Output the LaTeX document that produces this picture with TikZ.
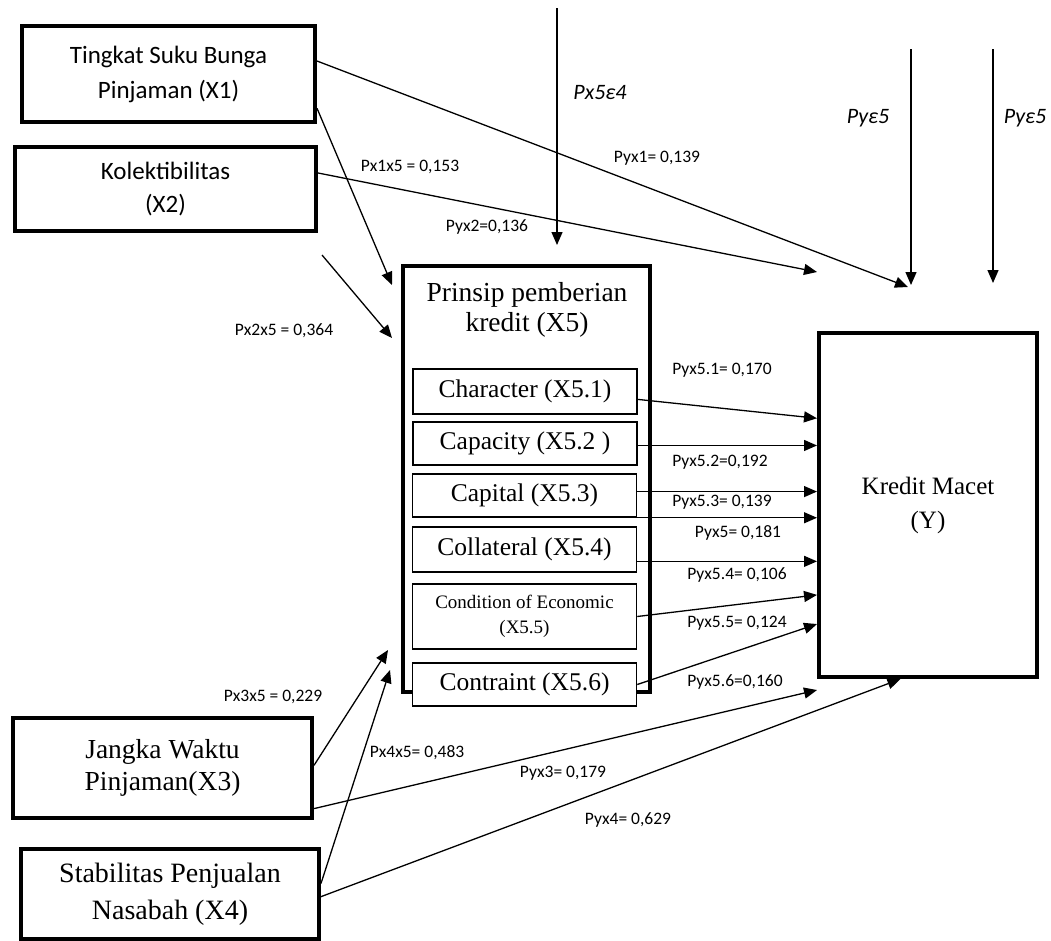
\documentclass[tikz,border=0pt]{standalone}
\usepackage{fontspec}
\setmainfont{Liberation Serif}
\newfontfamily\calib{Carlito}
\usetikzlibrary{arrows.meta}

\begin{document}
\begin{tikzpicture}[x=1pt,y=-1pt,
   varbox/.style={draw, line width=4pt, fill=white, align=center, inner sep=0pt},
   subbox/.style={draw, line width=1.5pt, fill=white, align=center, inner sep=0pt,
                  minimum width=224pt, font=\fontsize{25.5}{30}\selectfont},
   coef/.style={font=\calib\fontsize{17.5}{20}\selectfont, inner sep=1pt},
   err/.style={font=\calib\itshape\fontsize{22}{26}\selectfont, inner sep=1pt},
   link/.style={line width=1.3pt, -{Triangle[length=13pt,width=11pt]}}]

\useasboundingbox (0,0) rectangle (1051,940);

\node[varbox, minimum width=293pt, minimum height=96pt,
      font=\calib\fontsize{25}{35}\selectfont] (x1) at (168.5,74) {Tingkat Suku Bunga\\Pinjaman (X1)};
\node[varbox, minimum width=301pt, minimum height=84pt,
      font=\calib\fontsize{25}{33}\selectfont] (x2) at (165.5,189) {Kolektibilitas\\(X2)};
\node[varbox, minimum width=299pt, minimum height=100pt,
      font=\fontsize{27.5}{32}\selectfont] (x3) at (162.5,768) {Jangka Waktu\\Pinjaman(X3)};
\node[varbox, minimum width=298pt, minimum height=90pt,
      font=\fontsize{28}{37}\selectfont] (x4) at (170,894) {Stabilitas Penjualan\\Nasabah (X4)};
\node[varbox, minimum width=218pt, minimum height=344pt,
      font=\fontsize{25}{34}\selectfont] (ybox) at (928,505) {Kredit Macet\\(Y)};

\node[varbox, minimum width=247pt, minimum height=426pt] (x5) at (526.5,479) {};
\node[align=center, font=\fontsize{27.5}{30}\selectfont] (x5t) at (527,310) {Prinsip pemberian\\kredit (X5)};
\node[subbox, minimum height=45pt] (c1) at (525,391.5) {Character (X5.1)};
\node[subbox, minimum height=43pt] (c2) at (525,443.5) {Capacity (X5.2 )};
\node[subbox, minimum height=43pt] (c3) at (524.5,495.5) {Capital (X5.3)};
\node[subbox, minimum height=45pt] (c4) at (524.5,549.5) {Collateral (X5.4)};
\node[subbox, minimum height=65pt, font=\fontsize{19}{25}\selectfont] (c5) at (524.5,616.5) {Condition of Economic\\(X5.5)};
\node[subbox, minimum height=43pt] (c6) at (524.5,684.5) {Contraint (X5.6)};

\coordinate (x5a) at (392,285);
\coordinate (x2s) at (322,255);
\coordinate (x5b) at (392,338);
\coordinate (x5c) at (388,650);
\coordinate (x5d) at (390,670);
\coordinate (ya) at (908,287);
\coordinate (yb) at (817,272);
\coordinate (yc) at (817,690);
\coordinate (e4s) at (557,8);
\coordinate (e4e) at (557,245);
\coordinate (e5s) at (911,49);
\coordinate (e5e) at (911,285);
\coordinate (e6s) at (993,49);
\coordinate (e6e) at (993,283);

\draw[link] (x1.-13) -- (x5a);
\draw[link] (x2s) -- (x5b);
\draw[link] (x1.5.8) -- (ya);
\draw[link] (x2.6.8) -- (yb);
\draw[link] (e4s) -- (e4e);
\draw[link] (e5s) -- (e5e);
\draw[link] (e6s) -- (e6e);
\draw[link] (x3.1) -- (x5c);
\draw[link] (x4.4.2) -- (x5d);
\draw[link] (x3.-15) -- (yc);
\draw[link] (x4.-1.2) -- (ybox.261.5);

\draw[link] (c1.-4) -- (ybox.142.1);
\draw[link] (c2.-1.8) -- (c2.-1.8 -| ybox.west);
\draw[link] (c3.2.3) -- (c3.2.3 -| ybox.west);
\draw[link] (c3.south east) -- (c3.south east -| ybox.west);
\draw[link] (c4.-6.4) -- (c4.-6.4 -| ybox.west);
\draw[link] (c5.east) -- (ybox.219.9);
\draw[link] (c6.east) -- (ybox.227);

\node[err] (le4) at (600,93) {Px5ε4};
\node[err] (le5) at (868,118) {Pyε5};
\node[err] (le6) at (1025,118) {Pyε5};

\node[coef] (lyx1) at (657,158) {Pyx1= 0,139};
\node[coef] (lx1x5) at (410,167) {Px1x5 = 0,153};
\node[coef] (lyx2) at (487,227) {Pyx2=0,136};
\node[coef] (lx2x5) at (284,331) {Px2x5 = 0,364};
\node[coef] (lyx51) at (722,370) {Pyx5.1= 0,170};
\node[coef] (lyx52) at (720,462) {Pyx5.2=0,192};
\node[coef] (lyx53) at (722,502) {Pyx5.3= 0,139};
\node[coef] (lyx5) at (738,533) {Pyx5= 0,181};
\node[coef] (lyx54) at (737,575) {Pyx5.4= 0,106};
\node[coef] (lyx55) at (737,623) {Pyx5.5= 0,124};
\node[coef] (lyx56) at (735,682) {Pyx5.6=0,160};
\node[coef] (lx3x5) at (273,697) {Px3x5 = 0,229};
\node[coef] (lx4x5) at (417,753) {Px4x5= 0,483};
\node[coef] (lyx3) at (563,773) {Pyx3= 0,179};
\node[coef] (lyx4) at (628,820) {Pyx4= 0,629};

\end{tikzpicture}
\end{document}
